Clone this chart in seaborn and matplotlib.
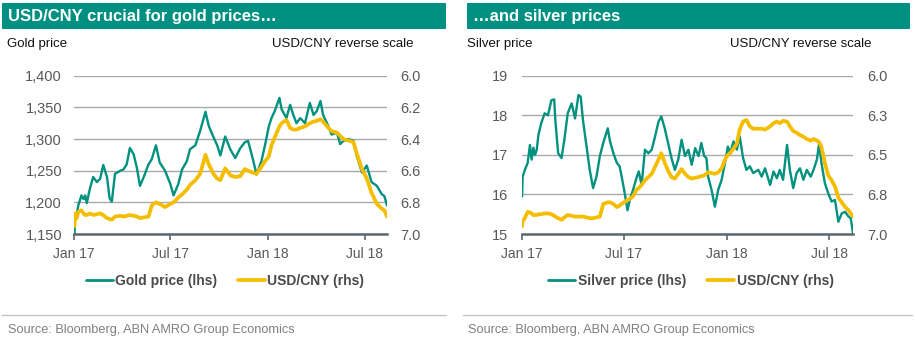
import matplotlib
matplotlib.use("Agg")
import matplotlib.pyplot as plt
from matplotlib.patches import Rectangle
from matplotlib.lines import Line2D
import pandas as pd
import seaborn as sns

# ---------------- data ----------------
gold_dates = [
    "2017-01-02", "2017-01-03", "2017-01-06", "2017-01-09", "2017-01-15", "2017-01-19",
    "2017-01-22", "2017-01-25", "2017-01-31", "2017-02-06", "2017-02-13", "2017-02-19",
    "2017-02-25", "2017-03-04", "2017-03-09", "2017-03-13", "2017-03-19", "2017-03-29",
    "2017-04-04", "2017-04-10", "2017-04-16", "2017-04-23", "2017-04-29", "2017-05-05",
    "2017-05-12", "2017-05-21", "2017-05-27", "2017-06-04", "2017-06-11", "2017-06-21",
    "2017-07-01", "2017-07-07", "2017-07-16", "2017-07-23", "2017-08-01", "2017-08-07",
    "2017-08-17", "2017-08-26", "2017-09-05", "2017-09-11", "2017-09-20", "2017-09-27",
    "2017-10-03", "2017-10-12", "2017-10-22", "2017-10-31", "2017-11-09", "2017-11-18",
    "2017-11-24", "2017-12-01", "2017-12-10", "2017-12-19", "2017-12-26", "2018-01-02",
    "2018-01-07", "2018-01-13", "2018-01-22", "2018-01-26", "2018-02-04", "2018-02-11",
    "2018-02-17", "2018-02-23", "2018-03-02", "2018-03-11", "2018-03-20", "2018-03-27",
    "2018-04-02", "2018-04-09", "2018-04-14", "2018-04-24", "2018-04-30", "2018-05-10",
    "2018-05-16", "2018-05-22", "2018-06-01", "2018-06-10", "2018-06-16", "2018-06-26",
    "2018-07-05", "2018-07-14", "2018-07-24", "2018-08-02", "2018-08-07", "2018-08-12",
]
gold_price = [
    1150, 1182, 1180, 1195, 1211, 1205,
    1211, 1199, 1222, 1240, 1232, 1237,
    1259, 1240, 1206, 1201, 1245, 1250,
    1252, 1260, 1286, 1276, 1255, 1226,
    1240, 1260, 1268, 1290, 1263, 1250,
    1229, 1211, 1229, 1252, 1265, 1284,
    1290, 1313, 1343, 1321, 1303, 1290,
    1274, 1304, 1283, 1270, 1285, 1295,
    1297, 1275, 1244, 1265, 1291, 1320,
    1333, 1344, 1365, 1347, 1333, 1354,
    1338, 1325, 1333, 1325, 1357, 1338,
    1344, 1360, 1338, 1320, 1307, 1310,
    1292, 1297, 1300, 1297, 1274, 1247,
    1258, 1232, 1226, 1213, 1210, 1195,
]
gold_usdcny = [
    6.95, 6.87, 6.90, 6.86, 6.85, 6.87,
    6.88, 6.88, 6.87, 6.88, 6.875, 6.87,
    6.88, 6.90, 6.905, 6.91, 6.89, 6.885,
    6.89, 6.885, 6.88, 6.885, 6.89, 6.90,
    6.895, 6.89, 6.82, 6.80, 6.81, 6.83,
    6.81, 6.80, 6.77, 6.75, 6.72, 6.69,
    6.66, 6.62, 6.50, 6.56, 6.62, 6.65,
    6.66, 6.585, 6.63, 6.64, 6.635, 6.59,
    6.60, 6.61, 6.62, 6.575, 6.54, 6.51,
    6.44, 6.39, 6.32, 6.30, 6.28, 6.33,
    6.34, 6.34, 6.33, 6.32, 6.30, 6.29,
    6.285, 6.275, 6.29, 6.33, 6.35, 6.36,
    6.38, 6.40, 6.41, 6.42, 6.49, 6.59,
    6.65, 6.74, 6.81, 6.84, 6.85, 6.89,
]

silver_dates = [
    "2017-01-02", "2017-01-03", "2017-01-07", "2017-01-12", "2017-01-16", "2017-01-19",
    "2017-01-22", "2017-01-25", "2017-01-28", "2017-01-31", "2017-02-05", "2017-02-11",
    "2017-02-17", "2017-02-23", "2017-02-28", "2017-03-02", "2017-03-07", "2017-03-13",
    "2017-03-18", "2017-03-24", "2017-03-31", "2017-04-06", "2017-04-12", "2017-04-16",
    "2017-04-20", "2017-04-26", "2017-05-02", "2017-05-08", "2017-05-14", "2017-05-20",
    "2017-05-26", "2017-06-03", "2017-06-07", "2017-06-13", "2017-06-19", "2017-06-24",
    "2017-06-27", "2017-07-02", "2017-07-08", "2017-07-12", "2017-07-18", "2017-07-24",
    "2017-07-28", "2017-08-02", "2017-08-08", "2017-08-14", "2017-08-20", "2017-08-26",
    "2017-09-01", "2017-09-06", "2017-09-12", "2017-09-18", "2017-09-24", "2017-09-30",
    "2017-10-06", "2017-10-12", "2017-10-18", "2017-10-24", "2017-10-30", "2017-11-05",
    "2017-11-11", "2017-11-16", "2017-11-21", "2017-11-25", "2017-11-28", "2017-12-04",
    "2017-12-10", "2017-12-16", "2017-12-22", "2017-12-28", "2018-01-02", "2018-01-06",
    "2018-01-12", "2018-01-18", "2018-01-23", "2018-01-29", "2018-02-04", "2018-02-10",
    "2018-02-16", "2018-02-25", "2018-03-03", "2018-03-09", "2018-03-18", "2018-03-24",
    "2018-03-30", "2018-04-04", "2018-04-10", "2018-04-17", "2018-04-22", "2018-04-28",
    "2018-05-04", "2018-05-10", "2018-05-16", "2018-05-22", "2018-05-29", "2018-06-03",
    "2018-06-09", "2018-06-13", "2018-06-17", "2018-06-23", "2018-06-29", "2018-07-05",
    "2018-07-11", "2018-07-17", "2018-07-23", "2018-07-29", "2018-08-04", "2018-08-08",
    "2018-08-12",
]
silver_price = [
    15.95, 16.45, 16.62, 16.80, 17.25, 16.88,
    17.18, 17.00, 17.13, 17.50, 17.80, 18.05,
    18.00, 18.38, 18.40, 17.88, 17.04, 16.92,
    17.38, 18.05, 18.30, 17.92, 18.51, 18.47,
    17.88, 17.25, 16.62, 16.16, 16.45, 16.97,
    17.30, 17.67, 17.34, 17.04, 16.80, 16.71,
    16.50, 16.12, 15.60, 15.86, 16.12, 16.42,
    16.58, 16.24, 17.13, 17.04, 17.13, 17.47,
    17.84, 17.97, 17.67, 17.30, 16.92, 16.62,
    16.88, 17.38, 16.97, 17.13, 16.75, 17.17,
    16.97, 17.30, 16.97, 16.92, 16.45, 16.12,
    15.69, 16.12, 16.37, 16.80, 17.21, 17.04,
    17.34, 17.13, 17.47, 16.92, 16.62, 16.71,
    16.54, 16.62, 16.45, 16.66, 16.24, 16.58,
    16.41, 16.62, 16.37, 17.25, 16.62, 16.16,
    16.54, 16.66, 16.37, 16.62, 16.45, 16.62,
    16.88, 17.30, 16.80, 16.29, 16.03, 15.82,
    15.86, 15.31, 15.52, 15.56, 15.44, 15.40,
    15.02,
]
silver_usdcny = [
    6.95, 6.92, 6.90, 6.86, 6.865, 6.87,
    6.88, 6.88, 6.88, 6.875, 6.875, 6.87,
    6.87, 6.875, 6.885, 6.89, 6.90, 6.91,
    6.895, 6.88, 6.885, 6.89, 6.89, 6.89,
    6.89, 6.895, 6.90, 6.90, 6.895, 6.89,
    6.81, 6.80, 6.80, 6.81, 6.83, 6.82,
    6.81, 6.80, 6.785, 6.78, 6.76, 6.72,
    6.71, 6.69, 6.66, 6.64, 6.62, 6.575,
    6.53, 6.49, 6.55, 6.60, 6.64, 6.65,
    6.62, 6.59, 6.62, 6.64, 6.65, 6.645,
    6.64, 6.635, 6.63, 6.62, 6.61, 6.615,
    6.62, 6.61, 6.585, 6.53, 6.50, 6.49,
    6.46, 6.43, 6.34, 6.29, 6.28, 6.32,
    6.335, 6.335, 6.335, 6.34, 6.32, 6.30,
    6.29, 6.30, 6.285, 6.29, 6.32, 6.35,
    6.36, 6.375, 6.385, 6.40, 6.41, 6.40,
    6.41, 6.42, 6.45, 6.55, 6.63, 6.66,
    6.70, 6.77, 6.80, 6.83, 6.85, 6.87,
    6.89,
]

date_ticks = ["2017-01-01", "2017-07-01", "2018-01-01", "2018-07-01"]
date_tick_labels = ["Jan 17", "Jul 17", "Jan 18", "Jul 18"]
date_range = ["2017-01-01", "2018-08-12"]

gold_ticks = [1150, 1200, 1250, 1300, 1350, 1400]
gold_tick_labels = ["1,150", "1,200", "1,250", "1,300", "1,350", "1,400"]
gold_cny_ticks = [6.0, 6.2, 6.4, 6.6, 6.8, 7.0]
gold_cny_tick_labels = ["6.0", "6.2", "6.4", "6.6", "6.8", "7.0"]

silver_ticks = [15, 16, 17, 18, 19]
silver_tick_labels = ["15", "16", "17", "18", "19"]
silver_cny_ticks = [6.0, 6.25, 6.5, 6.75, 7.0]
silver_cny_tick_labels = ["6.0", "6.3", "6.5", "6.8", "7.0"]

# ---------------- style ----------------
sns.set_theme(style="white")
plt.rcParams["font.family"] = ["Liberation Sans", "DejaVu Sans"]

W, H = 915, 349
fig = plt.figure(figsize=(W / 100, H / 100), dpi=100)


def fx(px):
    return px / W


def fy(py):
    return 1 - py / H


BAR = "#009082"
TEAL = "#00917f"
YELLOW = "#f5bd00"
GRID = "#a9a9a9"
AXIS = "#5c6870"
TICK_TXT = "#595959"
SOURCE_TXT = "#7f7f7f"


def panel(p):
    # header bar with title
    fig.add_artist(Rectangle((fx(p["bar"][0]), fy(29)), fx(p["bar"][1] - p["bar"][0]), 26 / H,
                             transform=fig.transFigure, facecolor=BAR, edgecolor="none"))
    fig.text(fx(p["bar"][0] + 6), fy(16.5), p["title"], color="white", fontsize=12,
             fontweight="bold", va="center", ha="left")
    # axis captions
    fig.text(fx(p["cap_l"]), fy(44), p["ylabel"], fontsize=9.5, color="#111111",
             va="center", ha="left")
    fig.text(fx(p["cap_r"]), fy(44), "USD/CNY reverse scale", fontsize=9.5, color="#111111",
             va="center", ha="right")

    x0, x1 = p["ax"]
    ax = fig.add_axes([fx(x0), fy(234), fx(x1 - x0), (234 - 75.7) / H])
    df = pd.DataFrame({"date": pd.to_datetime(p["dates"]), "metal": p["metal"],
                       "cny": p["cny"]})
    sns.lineplot(data=df, x="date", y="metal", ax=ax, color=TEAL, linewidth=1.7,
                 legend=False, zorder=3)
    ax2 = ax.twinx()
    sns.lineplot(data=df, x="date", y="cny", ax=ax2, color=YELLOW, linewidth=2.7,
                 legend=False, zorder=3)

    ax.set_xlim(pd.to_datetime(date_range[0]), pd.to_datetime(date_range[1]))
    ax.set_xticks(pd.to_datetime(date_ticks))
    ax.set_xticklabels(date_tick_labels)
    ax.set_ylim(p["yticks"][0], p["yticks"][-1])
    ax.set_yticks(p["yticks"])
    ax.set_yticklabels(p["yticklabels"])
    ax2.set_ylim(7.0, 6.0)
    ax2.set_yticks(p["rticks"])
    ax2.set_yticklabels(p["rticklabels"])

    for a in (ax, ax2):
        a.set_xlabel("")
        a.set_ylabel("")
        for s in ("top", "left", "right"):
            a.spines[s].set_visible(False)
        a.spines["bottom"].set_visible(False)
        a.grid(False)
    ax.spines["bottom"].set_visible(True)
    ax.spines["bottom"].set_color(AXIS)
    ax.spines["bottom"].set_linewidth(1.8)
    ax.spines["bottom"].set_zorder(4)
    ax.yaxis.grid(True, color=GRID, linewidth=1.0)
    ax.set_axisbelow(True)

    ax.tick_params(axis="x", bottom=True, length=4, width=1.2, color=AXIS, pad=5,
                   labelsize=10, labelcolor=TICK_TXT)
    ax.tick_params(axis="y", left=False, length=0, pad=p["lpad"], labelsize=10.5,
                   labelcolor=TICK_TXT)
    ax2.tick_params(axis="y", right=False, length=0, pad=p["rpad"], labelsize=10.5,
                    labelcolor=TICK_TXT)

    handles = [Line2D([], [], color=TEAL, linewidth=2.0),
               Line2D([], [], color=YELLOW, linewidth=2.7)]
    fig.legend(handles, [p["leg"], "USD/CNY (rhs)"], loc="center",
               bbox_to_anchor=(fx(p["leg_x"]), fy(281)), ncol=2, frameon=False,
               prop={"weight": "bold", "size": 10}, labelcolor="#4a4a4a",
               handlelength=1.95, handletextpad=0.2, columnspacing=1.45,
               borderaxespad=0, borderpad=0)

    # footer rule and source
    fig.add_artist(Line2D([fx(p["rule"][0]), fx(p["rule"][1])], [fy(315), fy(315)],
                          transform=fig.transFigure, color="#c4c4c4", linewidth=1.0))
    fig.text(fx(p["cap_l"] + 1), fy(330), "Source: Bloomberg, ABN AMRO Group Economics",
             fontsize=9.2, color=SOURCE_TXT, va="center", ha="left")


panel(dict(title="USD/CNY crucial for gold prices\u2026", bar=(2, 446), cap_l=7, cap_r=413,
           ylabel="Gold price", ax=(74, 387), dates=gold_dates, metal=gold_price,
           cny=gold_usdcny, yticks=gold_ticks, yticklabels=gold_tick_labels,
           rticks=gold_cny_ticks, rticklabels=gold_cny_tick_labels, lpad=8.6, rpad=9.4,
           leg="Gold price (lhs)", leg_x=225, rule=(2, 446)))

panel(dict(title="\u2026and silver prices", bar=(467, 910), cap_l=467, cap_r=872,
           ylabel="Silver price", ax=(521.5, 853), dates=silver_dates, metal=silver_price,
           cny=silver_usdcny, yticks=silver_ticks, yticklabels=silver_tick_labels,
           rticks=silver_cny_ticks, rticklabels=silver_cny_tick_labels, lpad=9.7, rpad=10.0,
           leg="Silver price (lhs)", leg_x=691, rule=(463, 912)))

fig.savefig("out.png", dpi=100)
